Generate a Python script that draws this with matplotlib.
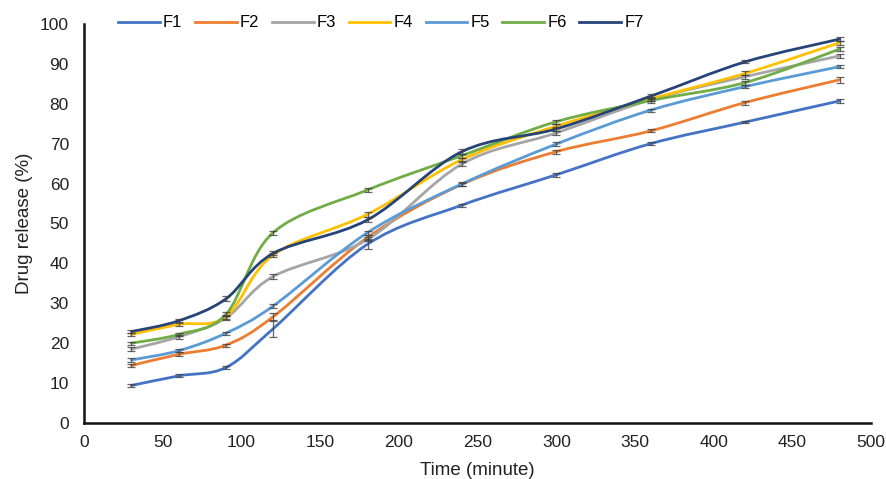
import numpy as np
import matplotlib.pyplot as plt
from matplotlib.path import Path
from matplotlib.patches import PathPatch
from matplotlib.lines import Line2D

plt.rcParams['font.family'] = ['Liberation Sans', 'DejaVu Sans']

# time points (minute)
time = [30, 60, 90, 120, 180, 240, 300, 360, 420, 480]

# drug release (%) per formulation
f1 = [9.4, 11.8, 13.9, 23.6, 44.8, 54.6, 62.2, 70.0, 75.4, 80.7]
f2 = [14.4, 17.2, 19.5, 26.6, 46.5, 59.8, 68.0, 73.2, 80.3, 86.0]
f3 = [18.5, 21.6, 26.3, 36.7, 46.0, 64.9, 72.7, 81.0, 86.8, 92.0]
f4 = [22.2, 24.7, 26.6, 42.1, 52.3, 66.0, 74.4, 81.2, 87.6, 95.3]
f5 = [15.8, 18.1, 22.5, 29.3, 47.7, 59.9, 69.9, 78.4, 84.3, 89.3]
f6 = [20.0, 22.2, 27.2, 47.7, 58.4, 67.0, 75.5, 80.8, 85.3, 93.7]
f7 = [22.9, 25.6, 31.1, 42.5, 50.9, 68.0, 73.7, 81.9, 90.5, 96.2]

# standard deviations
e1 = [0.4, 0.4, 0.4, 2.1, 1.2, 0.4, 0.5, 0.4, 0.3, 0.5]
e2 = [0.4, 0.5, 0.4, 1.0, 0.6, 0.4, 0.5, 0.4, 0.5, 0.8]
e3 = [0.5, 0.5, 0.5, 0.6, 0.5, 0.4, 0.5, 0.4, 0.5, 0.5]
e4 = [0.4, 0.4, 0.5, 0.5, 0.6, 0.4, 0.5, 0.4, 0.5, 0.5]
e5 = [0.4, 0.4, 0.4, 0.5, 0.5, 0.4, 0.4, 0.4, 0.4, 0.4]
e6 = [0.4, 0.4, 0.5, 0.5, 0.5, 0.5, 0.5, 0.5, 0.5, 0.6]
e7 = [0.4, 0.4, 0.6, 0.5, 0.6, 0.6, 0.5, 0.5, 0.4, 0.5]

labels = ['F1', 'F2', 'F3', 'F4', 'F5', 'F6', 'F7']
colors = ['#4472C4', '#ED7D31', '#A5A5A5', '#FFC000', '#5B9BD5', '#70AD47', '#264478']
series = [f1, f2, f3, f4, f5, f6, f7]
errors = [e1, e2, e3, e4, e5, e6, e7]


def smooth_path(x, y, t=1/6):
    # Excel-like smoothed line: Catmull-Rom style bezier control points
    x = np.asarray(x, float)
    y = np.asarray(y, float)
    verts = [(x[0], y[0])]
    codes = [Path.MOVETO]
    n = len(x)
    for i in range(n - 1):
        x0, y0 = (x[i - 1], y[i - 1]) if i > 0 else (x[i], y[i])
        x3, y3 = (x[i + 2], y[i + 2]) if i + 2 < n else (x[i + 1], y[i + 1])
        c1 = (x[i] + (x[i + 1] - x0) * t, y[i] + (y[i + 1] - y0) * t)
        c2 = (x[i + 1] - (x3 - x[i]) * t, y[i + 1] - (y3 - y[i]) * t)
        verts += [c1, c2, (x[i + 1], y[i + 1])]
        codes += [Path.CURVE4] * 3
    return Path(verts, codes)


fig, ax = plt.subplots(figsize=(8.87, 4.79), dpi=100)
fig.subplots_adjust(left=0.095, right=0.982, bottom=0.117, top=0.95)

handles = []
for lab, col, ys, es in zip(labels, colors, series, errors):
    ax.add_patch(PathPatch(smooth_path(time, ys), facecolor='none',
                           edgecolor=col, lw=2.0, capstyle='round'))
    ax.errorbar(time, ys, yerr=es, fmt='none', ecolor='#404040',
                elinewidth=0.9, capsize=3, capthick=0.9, alpha=0.8)
    handles.append(Line2D([], [], color=col, lw=2.0))

ax.set_xlim(0, 500)
ax.set_ylim(0, 100)
ax.set_xticks(range(0, 501, 50))
ax.set_yticks(range(0, 101, 10))
ax.tick_params(length=0, labelsize=12.5, colors='#222222')
ax.tick_params(axis='y', pad=11)
ax.tick_params(axis='x', pad=9)
for s in ['top', 'right']:
    ax.spines[s].set_visible(False)
for s in ['left', 'bottom']:
    ax.spines[s].set_linewidth(1.8)
    ax.spines[s].set_color('#111111')

ax.set_xlabel('Time (minute)', fontsize=13.5, labelpad=8, color='#222222')
ax.set_ylabel('Drug release (%)', fontsize=13.5, labelpad=5, color='#222222')

fig.legend(handles, labels, loc='center left', bbox_to_anchor=(0.133, 0.952),
           ncol=7, frameon=False, fontsize=12, handlelength=2.5,
           handletextpad=0.2, columnspacing=0.75, borderaxespad=0, borderpad=0)

fig.savefig('out.png', dpi=100)
